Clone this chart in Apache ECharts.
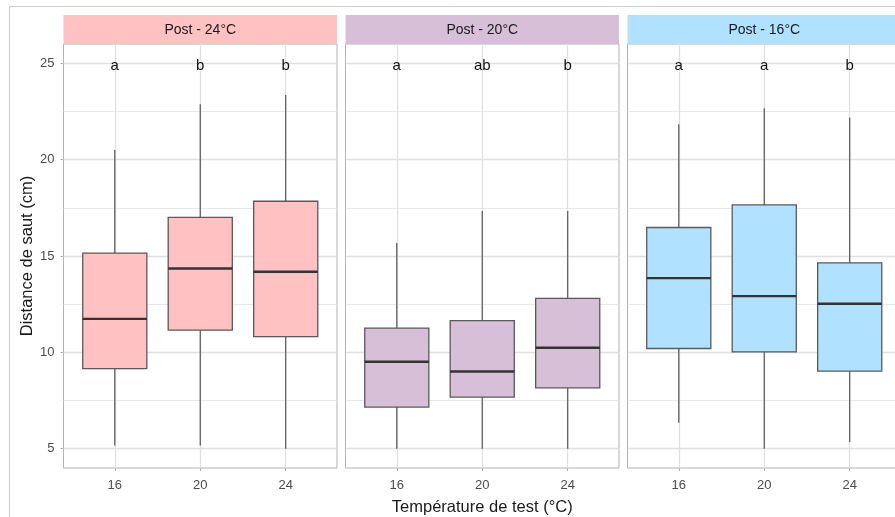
<!DOCTYPE html>
<html>
<head>
<meta charset="utf-8">
<script src="https://cdn.jsdelivr.net/npm/echarts@6/dist/echarts.min.js"></script>
<style>html,body{margin:0;padding:0;background:#fff;}#c{width:895px;height:517px;}</style>
</head>
<body>
<div id="c"></div>
<script>
// ---- data ----
const categories = ['16', '20', '24'];
const panelTitles = ['Post - 24°C', 'Post - 20°C', 'Post - 16°C'];
// [min, Q1, median, Q3, max] per test temperature
const post24 = [[5.17, 9.16, 11.74, 15.15, 20.50], [5.17, 11.15, 14.35, 17.00, 22.87], [5.00, 10.82, 14.18, 17.84, 23.36]];
const post20 = [[5.00, 7.16, 9.51, 11.26, 15.67], [5.00, 7.68, 9.01, 11.65, 17.34], [5.00, 8.16, 10.24, 12.80, 17.34]];
const post16 = [[6.35, 10.20, 13.85, 16.48, 21.84], [5.00, 10.03, 12.92, 17.65, 22.67], [5.35, 9.03, 12.52, 14.64, 22.18]];
const letters24 = ['a', 'b', 'b'];
const letters20 = ['a', 'ab', 'b'];
const letters16 = ['a', 'a', 'b'];
const letterY = 25;
const yTicks = [5, 10, 15, 20, 25];
const yMinor = [7.5, 12.5, 17.5, 22.5];

const panels = [post24, post20, post16];
const letters = [letters24, letters20, letters16];
const fills = ['#FFC1C1', '#D8BFD8', '#B0E2FF'];

const chart = echarts.init(document.getElementById('c'), null, {renderer: 'canvas'});
const FONT = '"Liberation Sans", Arial, sans-serif';
const gridLefts = [63.5, 345.5, 627.5];
const gridW = 273.5, gridTop = 44, gridH = 424;

const grids = [], xAxes = [], yAxes = [], series = [], graphics = [];

graphics.push({type: 'rect', shape: {x: 9.5, y: 6.5, width: 900, height: 520},
  style: {fill: 'none', stroke: '#CCCCCC', lineWidth: 1}, z: 0});

panels.forEach((pdata, pi) => {
  grids.push({left: gridLefts[pi], top: gridTop, width: gridW, height: gridH,
    containLabel: false, outerBoundsMode: 'none',
    show: true, backgroundColor: '#fff', borderColor: '#B3B3B3', borderWidth: 1});
  xAxes.push({
    type: 'value', gridIndex: pi, min: 0.4, max: 3.6,
    axisLine: {show: false},
    axisTick: {show: true, customValues: [1, 2, 3], length: 3, lineStyle: {color: '#B3B3B3'}},
    axisLabel: {show: true, customValues: [1, 2, 3], formatter: v => categories[Math.round(v) - 1],
      color: '#4D4D4D', fontSize: 13, fontFamily: FONT, margin: 11},
    splitLine: {show: false},
    name: pi === 1 ? 'Température de test (°C)' : '',
    nameLocation: 'middle', nameGap: 31,
    nameTextStyle: {fontSize: 16.5, color: '#1A1A1A', fontFamily: FONT}
  });
  yAxes.push({
    type: 'value', gridIndex: pi, min: 4, max: 26,
    axisLine: {show: false},
    axisTick: {show: pi === 0, customValues: yTicks, length: 3, lineStyle: {color: '#B3B3B3'}},
    axisLabel: {show: pi === 0, customValues: yTicks, color: '#4D4D4D', fontSize: 13, fontFamily: FONT, margin: 9},
    splitLine: {show: false},
    name: pi === 0 ? 'Distance de saut (cm)' : '',
    nameLocation: 'middle', nameGap: 26, nameRotate: 90,
    nameTextStyle: {fontSize: 16.5, color: '#1A1A1A', fontFamily: FONT}
  });
  // strip
  graphics.push({type: 'rect', shape: {x: gridLefts[pi], y: 15, width: gridW, height: 29},
    style: {fill: fills[pi]}, z: 1});
  graphics.push({type: 'text', x: gridLefts[pi] + gridW / 2, y: 30,
    style: {text: panelTitles[pi], fill: '#1A1A1A', font: '14px ' + FONT, align: 'center', verticalAlign: 'middle'}, z: 2});

  const data = pdata.map((d, i) => [i + 1].concat(d));
  const fill = fills[pi];
  const lets = letters[pi];
  series.push({
    type: 'custom', xAxisIndex: pi, yAxisIndex: pi, z: 3,
    data: data,
    encode: {x: 0, y: [1, 2, 3, 4, 5]},
    renderItem: function (params, api) {
      const x = api.value(0);
      const lo = api.value(1), q1 = api.value(2), med = api.value(3), q3 = api.value(4), hi = api.value(5);
      const w = api.size([0.75, 0])[0];
      const pLo = api.coord([x, lo]), pQ1 = api.coord([x, q1]), pMed = api.coord([x, med]);
      const pQ3 = api.coord([x, q3]), pHi = api.coord([x, hi]), pL = api.coord([x, letterY]);
      const cx = pLo[0];
      const wStyle = {stroke: '#555555', lineWidth: 1.2};
      return {type: 'group', children: [
        {type: 'line', shape: {x1: cx, y1: pHi[1], x2: cx, y2: pQ3[1]}, style: wStyle},
        {type: 'line', shape: {x1: cx, y1: pQ1[1], x2: cx, y2: pLo[1]}, style: wStyle},
        {type: 'rect', shape: {x: cx - w / 2, y: pQ3[1], width: w, height: pQ1[1] - pQ3[1]},
          style: {fill: fill, stroke: '#5A5A5A', lineWidth: 1.3}},
        {type: 'line', shape: {x1: cx - w / 2, y1: pMed[1], x2: cx + w / 2, y2: pMed[1]},
          style: {stroke: '#333333', lineWidth: 2.4}},
        {type: 'text', x: cx, y: pL[1] + 3,
          style: {text: lets[params.dataIndex], fill: '#111111', font: '15px ' + FONT, align: 'center', verticalAlign: 'middle'}}
      ]};
    },
    markLine: {
      silent: true, symbol: 'none', z: 1, animation: false,
      label: {show: false},
      lineStyle: {color: '#E0E0E0', type: 'solid', width: 1.3},
      data: yTicks.map(v => ({yAxis: v}))
        .concat(yMinor.map(v => ({yAxis: v, lineStyle: {color: '#E8E8E8', width: 1.1}})))
        .concat([1, 2, 3].map(v => ({xAxis: v})))
    }
  });
});

chart.setOption({
  animation: false,
  backgroundColor: '#fff',
  grid: grids, xAxis: xAxes, yAxis: yAxes, series: series, graphic: graphics
});
</script>
</body>
</html>
